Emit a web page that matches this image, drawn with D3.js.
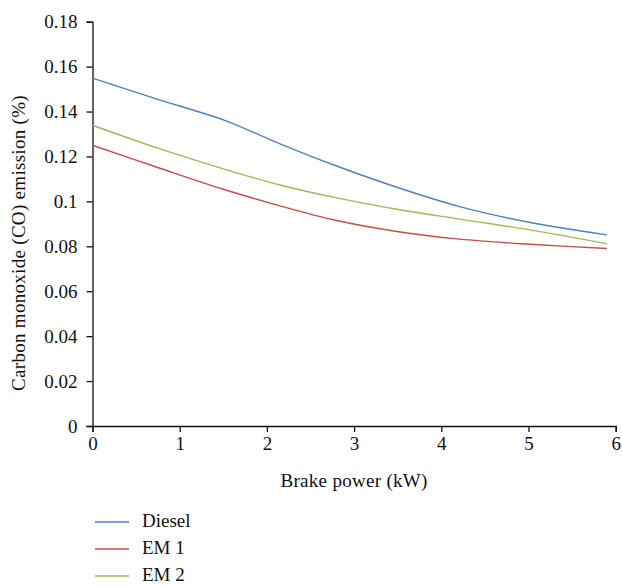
<!DOCTYPE html>
<html>
<head>
<meta charset="utf-8">
<script src="https://cdn.jsdelivr.net/npm/d3@7"></script>
<style>
  body { margin: 0; background: #fff; }
  svg text { font-family: "Liberation Serif", "DejaVu Serif", serif; fill: #111; }
</style>
</head>
<body>
<div id="chart"></div>
<script>
// brake power (kW) sample points
const power = [0, 0.74, 1.5, 2.15, 2.76, 3.49, 4.21, 5.02, 5.9]
const diesel = [0.1549, 0.1455, 0.1363, 0.1256, 0.1163, 0.1063, 0.0977, 0.0906, 0.0851]
const em1 = [0.125, 0.1152, 0.1054, 0.098, 0.0918, 0.0866, 0.0832, 0.0809, 0.079]
const em2 = [0.1339, 0.1238, 0.1145, 0.1073, 0.1019, 0.0965, 0.0921, 0.0873, 0.0811]
const xTicks = [0, 1, 2, 3, 4, 5, 6]
const yTicks = [0, 0.02, 0.04, 0.06, 0.08, 0.1, 0.12, 0.14, 0.16, 0.18]

const series = [
  { name: 'Diesel', values: diesel, color: '#4f81bd' },
  { name: 'EM 1', values: em1, color: '#c0504d' },
  { name: 'EM 2', values: em2, color: '#9bbb59' }
]

const width = 622
	, height = 586
	, margin = { left: 92.5, right: 6.3, top: 21.7, bottom: 160 }

const x = d3.scaleLinear()
	.domain([0, 6])
	.range([margin.left, width - margin.right])
const y = d3.scaleLinear()
	.domain([0, 0.18])
	.range([height - margin.bottom, margin.top])

const svg = d3.select('#chart').append('svg')
	.attr('width', width)
	.attr('height', height)

// axes
svg.append('g')
	.attr('transform', 'translate(0,' + y(0) + ')')
	.call(d3.axisBottom(x).tickValues(xTicks).tickFormat(d3.format('d')).tickSizeOuter(0).tickSize(6).tickPadding(5))
svg.append('g')
	.attr('transform', 'translate(' + x(0) + ',0)')
	.call(d3.axisLeft(y).tickValues(yTicks).tickFormat(d => d === 0 ? '0' : String(+d.toFixed(2))).tickSizeOuter(0).tickSize(6).tickPadding(9))

svg.selectAll('.domain, .tick line')
	.attr('stroke', '#111')
	.attr('stroke-width', 1.3)
svg.selectAll('.tick text')
	.style('font-size', '19px')
	.attr('fill', '#111')

// axis titles
svg.append('text')
	.attr('x', x(3))
	.attr('y', 487)
	.attr('text-anchor', 'middle')
	.style('font-size', '19px')
	.style('letter-spacing', '0.3px')
	.text('Brake power (kW)')
svg.append('text')
	.attr('transform', 'translate(25,243) rotate(-90)')
	.attr('text-anchor', 'middle')
	.style('font-size', '19px')
	.style('letter-spacing', '0.3px')
	.text('Carbon monoxide (CO) emission (%)')

// lines
const line = d3.line()
	.x((d, i) => x(power[i]))
	.y(d => y(d))
	.curve(d3.curveCatmullRom.alpha(0.5))

svg.append('g').selectAll('path')
	.data(series)
	.join('path')
	.attr('d', d => line(d.values))
	.attr('fill', 'none')
	.attr('stroke', d => d.color)
	.attr('stroke-width', 1.4)

// legend
const legend = svg.append('g').selectAll('g')
	.data(series)
	.join('g')
	.attr('transform', (d, i) => 'translate(95,' + (522 + i * 27) + ')')
legend.append('line')
	.attr('x1', 0).attr('x2', 34)
	.attr('stroke', d => d.color)
	.attr('stroke-width', 1.4)
legend.append('text')
	.attr('x', 47)
	.attr('y', 5)
	.style('font-size', '19px')
	.text(d => d.name)
</script>
</body>
</html>
